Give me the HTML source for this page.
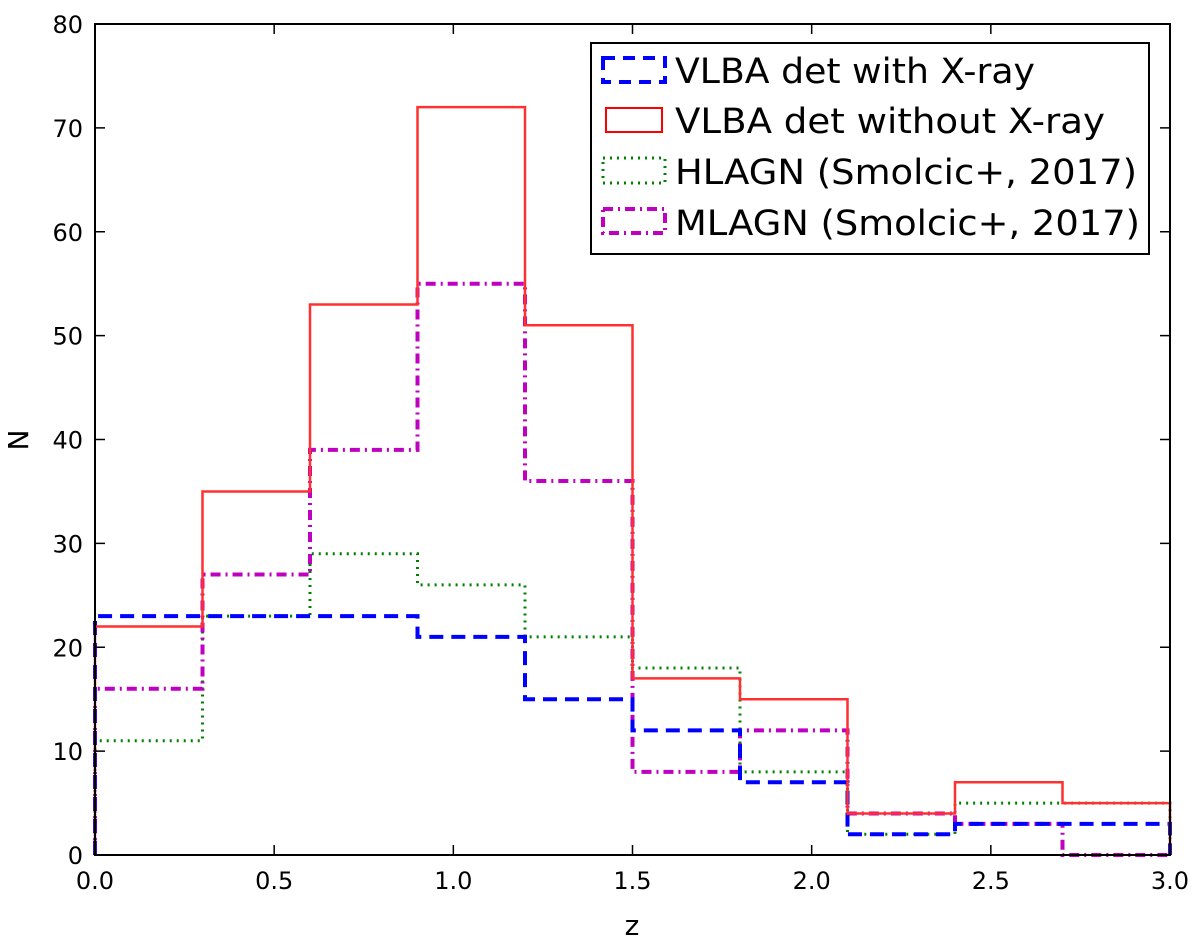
<!DOCTYPE html>
<html><head><meta charset="utf-8"><style>
body{margin:0;background:#fff;}
svg text{font-family:"DejaVu Sans","Liberation Sans",sans-serif;}
</style></head><body>
<svg id="chart" width="1200" height="945">
<g id="series"></g>
<rect x="95" y="24" width="1075" height="831" fill="none" stroke="#000" stroke-width="2"/>
<g id="axes"></g>
<text x="632" y="935" font-size="28" text-anchor="middle">z</text>
<text x="28" y="440" font-size="28" text-anchor="middle" transform="rotate(-90 28 440)">N</text>
<g>
<rect x="591" y="43" width="558" height="211" fill="#fff" stroke="#000" stroke-width="2"/>
<rect x="603" y="58" width="62" height="24" fill="none" stroke="#0000ff" stroke-width="4" stroke-dasharray="12,8"/>
<text x="675" y="83" font-size="35" textLength="360" lengthAdjust="spacingAndGlyphs">VLBA det with X-ray</text>
<rect x="606" y="108" width="56" height="24" fill="none" stroke="#ff0000" stroke-width="2"/>
<text x="675" y="133" font-size="35" textLength="430" lengthAdjust="spacingAndGlyphs">VLBA det without X-ray</text>
<rect x="603" y="158" width="62" height="25" fill="none" stroke="#008000" stroke-width="3" stroke-dasharray="2,5"/>
<text x="675" y="184" font-size="35" textLength="462" lengthAdjust="spacingAndGlyphs">HLAGN (Smolcic+, 2017)</text>
<rect x="603" y="209" width="62" height="24" fill="none" stroke="#c000c0" stroke-width="4" stroke-dasharray="10,5,2,5"/>
<text x="675" y="235" font-size="35" textLength="465" lengthAdjust="spacingAndGlyphs">MLAGN (Smolcic+, 2017)</text>
</g>
</svg>
<script>
const binEdges=[0,0.3,0.6,0.9,1.2,1.5,1.8,2.1,2.4,2.7,3.0];
const redVals=[22,35,53,72,51,17,15,4,7,5];
const blueVals=[23,23,23,21,15,12,7,2,3,3];
const greenVals=[11,23,29,26,21,18,8,2,5,5];
const magentaVals=[16,27,39,55,36,8,12,4,3,0];
const xTicks=["0.0","0.5","1.0","1.5","2.0","2.5","3.0"];
const yTicks=["0","10","20","30","40","50","60","70","80"];
const X0=95,X1=1170,Y0=855,Y1=24;
const sx=v=>X0+(v-0)/3*(X1-X0);
const sy=v=>Y0-(v/80)*(Y0-Y1);
const NS="http://www.w3.org/2000/svg";
const sg=document.getElementById('series');
function stepPath(vals){
  let d="M"+sx(binEdges[0])+","+sy(0);
  vals.forEach((v,i)=>{d+=" L"+sx(binEdges[i])+","+sy(v)+" L"+sx(binEdges[i+1])+","+sy(v);});
  d+=" L"+sx(binEdges[binEdges.length-1])+","+sy(0);
  return d;
}
function addSeries(vals,color,w,dash,name){
  const p=document.createElementNS(NS,'path');
  p.setAttribute('d',stepPath(vals));
  p.setAttribute('fill','none');p.setAttribute('stroke',color);p.setAttribute('stroke-width',w);
  if(dash)p.setAttribute('stroke-dasharray',dash);
  
  
  sg.appendChild(p);
}
addSeries(greenVals,'#008000',3,'2,5','series-hlagn');
addSeries(magentaVals,'#c000c0',4,'10,5,2,5','series-mlagn');
addSeries(blueVals,'#0000ff',4,'14,8','series-vlba-xray');
addSeries(redVals,'#ff3030',2.5,null,'series-vlba-noxray');
const ag=document.getElementById('axes');
xTicks.forEach(t=>{
  const x=sx(parseFloat(t));
  const l=document.createElementNS(NS,'path');
  l.setAttribute('d',`M${x},${Y0} v-10 M${x},${Y1} v10`);l.setAttribute('stroke','#000');l.setAttribute('stroke-width','1.5');
  
  
  ag.appendChild(l);
  const tx=document.createElementNS(NS,'text');
  tx.setAttribute('x',x);tx.setAttribute('y',Y0+34);tx.setAttribute('font-size','24');tx.setAttribute('text-anchor','middle');
  tx.textContent=t;
  
  
  ag.appendChild(tx);
});
yTicks.forEach(t=>{
  const y=sy(parseFloat(t));
  const l=document.createElementNS(NS,'path');
  l.setAttribute('d',`M${X0},${y} h10 M${X1},${y} h-10`);l.setAttribute('stroke','#000');l.setAttribute('stroke-width','1.5');
  
  
  ag.appendChild(l);
  const tx=document.createElementNS(NS,'text');
  tx.setAttribute('x',X0-12);tx.setAttribute('y',y+9);tx.setAttribute('font-size','24');tx.setAttribute('text-anchor','end');
  tx.textContent=t;
  
  
  ag.appendChild(tx);
});
</script>
</body></html>
